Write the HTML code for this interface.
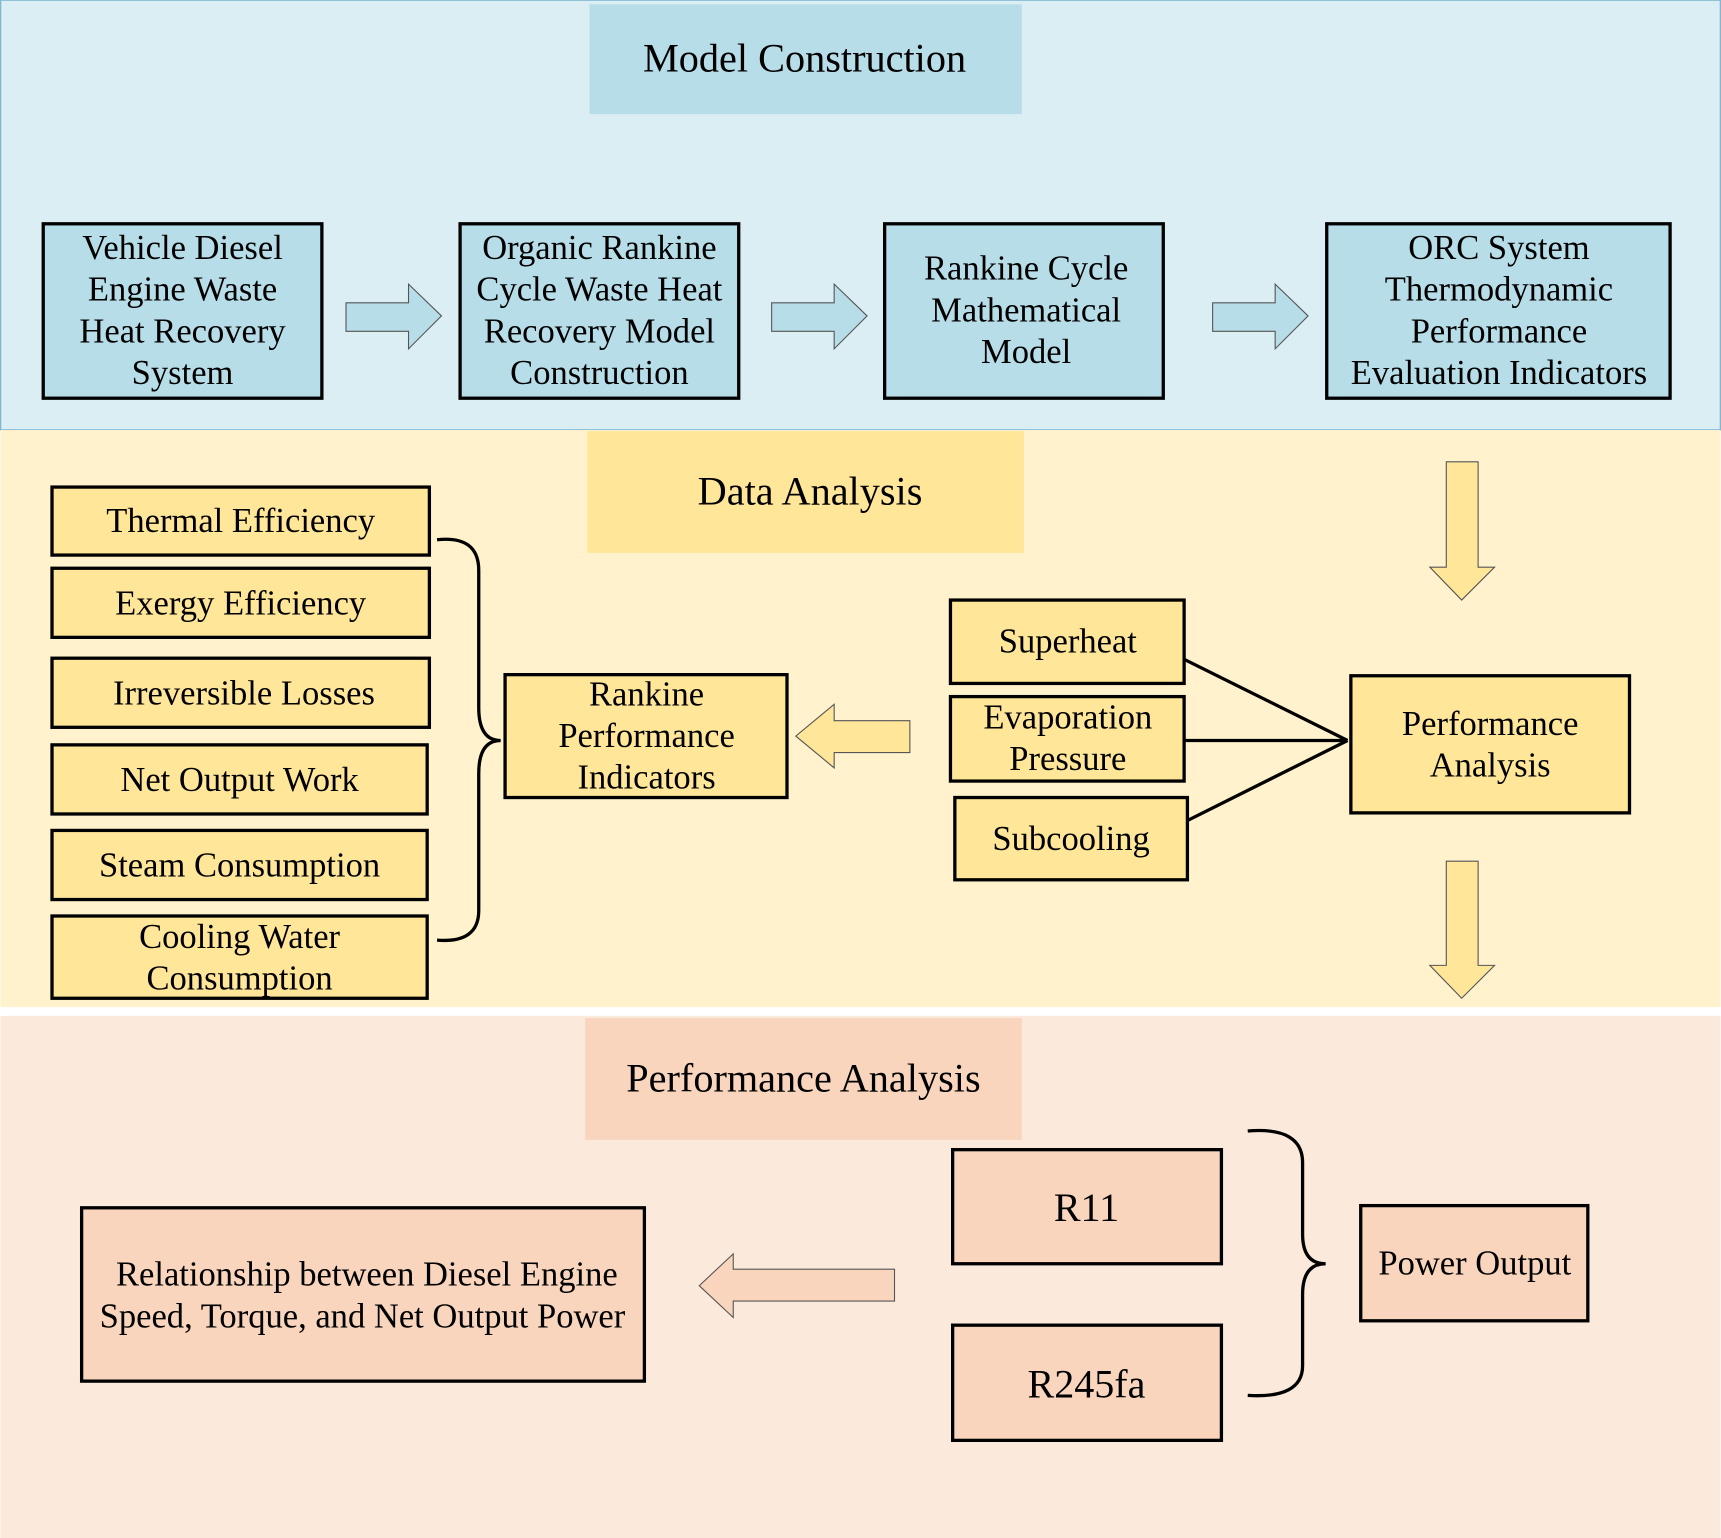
<!DOCTYPE html>
<html><head><meta charset="utf-8"><style>html,body{margin:0;padding:0;background:#fff}svg{display:block}</style></head>
<body>
<svg width="1721" height="1538" viewBox="0 0 1568 1402" xmlns="http://www.w3.org/2000/svg" font-family="Liberation Serif, serif" text-anchor="middle" font-size="31.5">
<rect x="0" y="0" width="1568" height="392" fill="#daeef3" stroke="#7fb8d0" stroke-width="1.5"/>
<rect x="0" y="392" width="1568" height="526" fill="#fff2cc"/>
<rect x="0" y="926" width="1568" height="476" fill="#fbe9dc"/>
<rect x="537" y="4" width="394" height="100" fill="#b7dde8"/>
<text x="733" y="65" font-size="36.7">Model Construction</text>
<rect x="535" y="393" width="398" height="111" fill="#ffe699"/>
<text x="738" y="460" font-size="36.7">Data Analysis</text>
<rect x="533" y="928" width="398" height="111" fill="#f8d5bc"/>
<text x="732" y="995" font-size="36.7">Performance Analysis</text>

<g fill="#b7dde8" stroke="#000" stroke-width="3">
<rect x="39" y="204" width="254" height="159"/>
<rect x="419" y="204" width="254" height="159"/>
<rect x="806" y="204" width="254" height="159"/>
<rect x="1209" y="204" width="313" height="159"/>
</g>
<g>
<text x="166" y="236">Vehicle Diesel</text><text x="166" y="274">Engine Waste</text><text x="166" y="312">Heat Recovery</text><text x="166" y="350">System</text>
<text x="546" y="236">Organic Rankine</text><text x="546" y="274">Cycle Waste Heat</text><text x="546" y="312">Recovery Model</text><text x="546" y="350">Construction</text>
<text x="935" y="255">Rankine Cycle</text><text x="935" y="293">Mathematical</text><text x="935" y="331">Model</text>
<text x="1366" y="236">ORC System</text><text x="1366" y="274">Thermodynamic</text><text x="1366" y="312">Performance</text><text x="1366" y="350">Evaluation Indicators</text>
</g>
<g fill="#b7dde8" stroke="#555" stroke-width="1">
<path d="M315 276H372V259L402 288L372 318V302H315Z"/>
<path d="M703 276H760V259L790 288L760 318V302H703Z"/>
<path d="M1105 276H1162V259L1192 288L1162 318V302H1105Z"/>
</g>

<g fill="#ffe699" stroke="#555" stroke-width="1">
<path d="M1318 421H1347V517H1362L1332 547L1303 517H1318Z"/>
<path d="M1318 785H1347V880H1362L1332 910L1303 880H1318Z"/>
<path d="M829 657V686H760V700L725 671L760 642V657Z"/>
</g>
<g fill="#ffe699" stroke="#000" stroke-width="3">
<rect x="47" y="444" width="344" height="62"/>
<rect x="47" y="518" width="344" height="63"/>
<rect x="47" y="600" width="344" height="63"/>
<rect x="47" y="679" width="342" height="63"/>
<rect x="47" y="757" width="342" height="63"/>
<rect x="47" y="835" width="342" height="75"/>
<rect x="460" y="615" width="257" height="112"/>
<rect x="866" y="547" width="213" height="76"/>
<rect x="866" y="635" width="213" height="77"/>
<rect x="870" y="727" width="212" height="75"/>
<rect x="1231" y="616" width="254" height="125"/>
</g>
<g>
<text x="219" y="485">Thermal Efficiency</text>
<text x="219" y="560">Exergy Efficiency</text>
<text x="222" y="642">Irreversible Losses</text>
<text x="218" y="721">Net Output Work</text>
<text x="218" y="799">Steam Consumption</text>
<text x="218" y="864">Cooling Water</text><text x="218" y="902">Consumption</text>
<text x="589" y="643">Rankine</text><text x="589" y="681">Performance</text><text x="589" y="719">Indicators</text>
<text x="973" y="595">Superheat</text>
<text x="973" y="664">Evaporation</text><text x="973" y="702">Pressure</text>
<text x="976" y="775">Subcooling</text>
<text x="1358" y="670">Performance</text><text x="1358" y="708">Analysis</text>
</g>
<g fill="none" stroke="#000" stroke-width="3">
<path d="M398 492Q436 488 436 520V645Q436 675 456 675Q436 675 436 705V830Q436 860 398 857"/>
<path d="M1079 601L1228 675M1079 675H1228M1082 748L1228 675"/>
<path d="M1137 1031Q1187 1027 1187 1060V1125Q1187 1152 1208 1152Q1187 1152 1187 1180V1245Q1187 1275 1137 1272"/>
</g>

<path d="M815 1157V1186H668V1201L637 1172L668 1143V1157Z" fill="#f8d5bc" stroke="#555" stroke-width="1"/>
<g fill="#f8d5bc" stroke="#000" stroke-width="3">
<rect x="74" y="1101" width="513" height="158"/>
<rect x="868" y="1048" width="245" height="104"/>
<rect x="868" y="1208" width="245" height="105"/>
<rect x="1240" y="1099" width="207" height="105"/>
</g>
<text x="334" y="1172">Relationship between Diesel Engine</text>
<text x="330" y="1210">Speed, Torque, and Net Output Power</text>
<text x="990" y="1113" font-size="36.5">R11</text>
<text x="990" y="1274" font-size="36.5">R245fa</text>
<text x="1344" y="1162">Power Output</text>
</svg>
</body></html>
